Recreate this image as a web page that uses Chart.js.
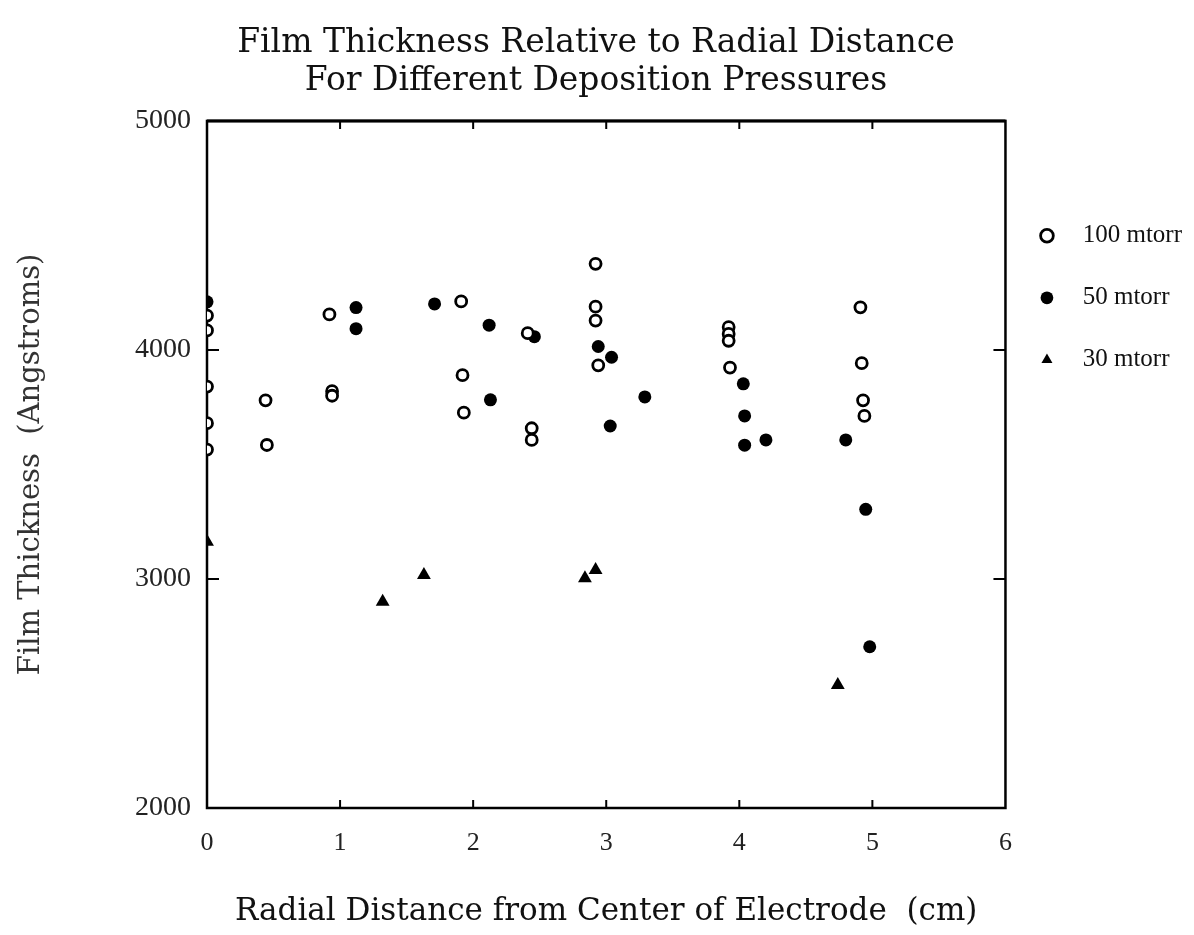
<!DOCTYPE html>
<html>
<head>
<meta charset="utf-8">
<title>Film Thickness Relative to Radial Distance</title>
<script src="https://cdn.jsdelivr.net/npm/chart.js@4.4.1/dist/chart.umd.min.js"></script>
<style>
  html, body { margin: 0; padding: 0; background: #fff; }
  #wrap { width: 1194px; height: 935px; }
</style>
</head>
<body>
<div id="wrap"><canvas id="myChart"></canvas></div>
<script>
// values: radial distance (cm) vs thickness (Angstroms)
const seriesNames = ['100 mtorr', '50 mtorr', '30 mtorr'];

const x100 = [0, 0, 0, 0, 0, 0.44, 0.45, 0.92, 0.94, 0.94, 1.91, 1.92, 1.93, 2.41, 2.44, 2.44,
  2.92, 2.92, 2.92, 2.94, 3.92, 3.92, 3.92, 3.93, 4.91, 4.92, 4.93, 4.94];
const y100 = [4150, 4085, 3840, 3680, 3565, 3780, 3585, 4155, 3820, 3800, 4212, 3890, 3726, 4073, 3658, 3607,
  4376, 4189, 4128, 3933, 4100, 4070, 4040, 3923, 4186, 3942, 3780, 3712];

const x50 = [0, 1.12, 1.12, 1.71, 2.12, 2.13, 2.46, 2.94, 3.04, 3.03, 3.29, 4.03, 4.04, 4.04, 4.20, 4.80, 4.95, 4.98];
const y50 = [4210, 4185, 4093, 4201, 4108, 3782, 4058, 4015, 3968, 3668, 3795, 3852, 3712, 3584, 3607, 3607, 3304, 2704];

const x30 = [0, 1.32, 1.63, 2.84, 2.92, 4.74];
const y30 = [3163, 2901, 3017, 3003, 3039, 2537];

const xTicks = [0, 1, 2, 3, 4, 5, 6];
const yTicks = [2000, 3000, 4000, 5000];

const titleLines = ['Film Thickness Relative to Radial Distance', 'For Different Deposition Pressures'];
const xTitle = 'Radial Distance from Center of Electrode  (cm)';
const yTitle = 'Film Thickness  (Angstroms)';

function pairs(xs, ys) {
  return xs.map((x, i) => ({ x: x, y: ys[i] }));
}

// frame around the plot plus the small inward ticks
const frameTicks = {
  id: 'frameTicks',
  beforeDatasetsDraw(chart) {
    const { ctx, chartArea: a, scales } = chart;
    ctx.save();
    ctx.strokeStyle = '#000';
    ctx.lineWidth = 2.5;
    ctx.strokeRect(a.left, a.top, a.right - a.left, a.bottom - a.top);
    ctx.lineWidth = 3;
    ctx.beginPath();
    ctx.moveTo(a.left, a.top); ctx.lineTo(a.right, a.top);
    ctx.stroke();
    ctx.lineWidth = 2;
    ctx.beginPath();
    xTicks.slice(1, -1).forEach(v => {
      const px = scales.x.getPixelForValue(v);
      ctx.moveTo(px, a.bottom); ctx.lineTo(px, a.bottom - 8);
      ctx.moveTo(px, a.top); ctx.lineTo(px, a.top + 8);
    });
    yTicks.slice(1, -1).forEach(v => {
      const py = scales.y.getPixelForValue(v);
      ctx.moveTo(a.left, py); ctx.lineTo(a.left + 12, py);
      ctx.moveTo(a.right, py); ctx.lineTo(a.right - 12, py);
    });
    ctx.stroke();
    ctx.restore();
  }
};

const ctx = document.getElementById('myChart').getContext('2d');
const myChart = new Chart(ctx, {
  type: 'scatter',
  data: {
    datasets: [{
      label: seriesNames[0],
      data: pairs(x100, y100),
      pointStyle: 'circle',
      pointRadius: 5.5,
      pointBorderWidth: 2.8,
      borderColor: '#000',
      backgroundColor: '#fff'
    }, {
      label: seriesNames[1],
      data: pairs(x50, y50),
      pointStyle: 'circle',
      pointRadius: 6.5,
      pointBorderWidth: 0,
      borderColor: '#000',
      backgroundColor: '#000'
    }, {
      label: seriesNames[2],
      data: pairs(x30, y30),
      pointStyle: 'triangle',
      pointRadius: 8,
      pointBorderWidth: 0,
      borderColor: '#000',
      backgroundColor: '#000'
    }]
  },
  options: {
    responsive: true,
    maintainAspectRatio: false,
    animation: false,
    layout: { padding: { left: 0, right: 2, top: 0, bottom: 0 } },
    plugins: {
      title: {
        display: true,
        text: titleLines,
        color: '#111',
        font: { family: 'DejaVu Serif', size: 33, weight: 'normal', lineHeight: 1.15 },
        padding: { top: 24, bottom: 21 }
      },
      legend: {
        position: 'right',
        align: 'start',
        fullSize: false,
        title: { display: true, text: '', padding: { top: 51, bottom: 0 } },
        labels: {
          usePointStyle: true,
          boxWidth: 9,
          boxHeight: 9,
          padding: 37,
          color: '#111',
          font: { family: 'Liberation Serif', size: 25 },
          generateLabels(chart) {
            const items = Chart.defaults.plugins.legend.labels.generateLabels(chart);
            items.forEach(it => { it.text = '   ' + it.text; });
            return items;
          }
        }
      },
      tooltip: { enabled: false }
    },
    scales: {
      x: {
        type: 'linear',
        min: 0,
        max: 6,
        afterBuildTicks(scale) { scale.ticks = xTicks.map(v => ({ value: v })); },
        afterFit(scale) { scale.height = 127; },
        grid: { display: false, drawTicks: false },
        border: { display: false },
        ticks: {
          padding: 20,
          color: '#222',
          font: { family: 'Liberation Serif', size: 26 }
        },
        title: {
          display: true,
          text: xTitle,
          color: '#111',
          font: { family: 'DejaVu Serif', size: 31 },
          padding: { top: 0, bottom: 4 }
        }
      },
      y: {
        type: 'linear',
        min: 2000,
        max: 5000,
        afterBuildTicks(scale) { scale.ticks = yTicks.map(v => ({ value: v })); },
        afterFit(scale) { scale.width = 207; },
        grid: { display: false, drawTicks: false },
        border: { display: false },
        ticks: {
          padding: 16,
          color: '#222',
          font: { family: 'Liberation Serif', size: 28 },
          callback: v => String(v)
        },
        title: {
          display: true,
          text: yTitle,
          color: '#333',
          font: { family: 'DejaVu Serif', size: 29 },
          padding: { top: 14, bottom: 0 }
        }
      }
    }
  },
  plugins: [frameTicks]
});
</script>
</body>
</html>
